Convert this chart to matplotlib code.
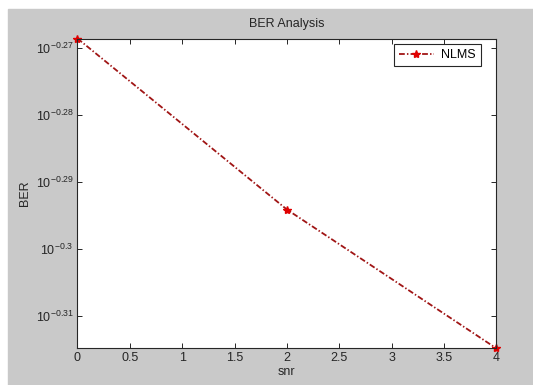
import matplotlib
matplotlib.use('Agg')
import matplotlib.pyplot as plt
from matplotlib.patches import Rectangle

matplotlib.rcParams['font.family'] = 'Liberation Sans'
matplotlib.rcParams['font.size'] = 9
matplotlib.rcParams['mathtext.fontset'] = 'custom'
matplotlib.rcParams['mathtext.rm'] = 'Liberation Sans'
matplotlib.rcParams['mathtext.it'] = 'Liberation Sans'

# data
snr = [0, 2, 4]
ber = [0.5388, 0.5080, 0.4843]
x_ticks = [0, 0.5, 1, 1.5, 2, 2.5, 3, 3.5, 4]
y_exps = [-0.27, -0.28, -0.29, -0.3, -0.31]

fig = plt.figure(figsize=(5.33, 3.85), dpi=100)
fig.patch.set_facecolor('white')
# matlab grey window, offset a little from the top-left corner
fig.patches.append(Rectangle((8 / 533, 0), 1, 1 - 9 / 385,
                             transform=fig.transFigure, color='#c9c9c9',
                             zorder=-10))

ax = fig.add_axes([0.1454, 0.0953, 0.7857, 0.8047])
ax.set_facecolor('white')
ax.plot(snr, ber, color='#a01515', linestyle='-.', linewidth=1.3,
        dashes=(3.2, 1.2, 0.8, 1.2),
        marker='*', markersize=6, markerfacecolor='#e00000',
        markeredgecolor='#e00000', label='NLMS', clip_on=False)

ax.set_yscale('log')
ax.set_xlim(snr[0], snr[-1])
ax.set_ylim(ber[-1], ber[0])
ax.set_xticks(x_ticks)
ax.set_xticklabels([('%g' % t) for t in x_ticks])
ax.set_yticks([10 ** e for e in y_exps])
ax.set_yticklabels([r'$10^{%g}$' % e for e in y_exps])
ax.minorticks_off()
ax.tick_params(direction='in', top=True, right=True, length=3.8, width=0.7,
               colors='#262626', labelsize=9, pad=3)
for sp in ax.spines.values():
    sp.set_color('#262626')
    sp.set_linewidth(0.8)

ax.set_title('BER Analysis', fontsize=9, color='#262626', pad=8)
ax.set_xlabel('snr', color='#262626')
ax.set_ylabel('BER', color='#262626')
ax.xaxis.set_label_coords(0.5, -0.058)
ax.yaxis.set_label_coords(-0.111, 0.5)

leg = ax.legend(loc='upper right', bbox_to_anchor=(0.9635, 0.9822),
                borderaxespad=0, fancybox=False, framealpha=1,
                edgecolor='#262626', handlelength=2.8, handletextpad=0.6)
leg.get_frame().set_linewidth(0.8)

fig.savefig('out.png', dpi=100, facecolor=fig.get_facecolor())
